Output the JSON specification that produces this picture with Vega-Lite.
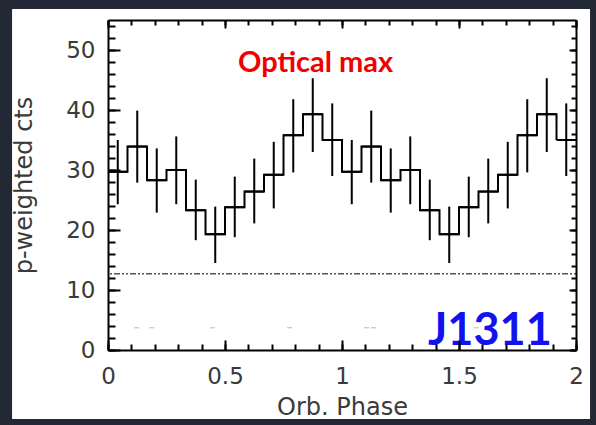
{
  "$schema": "https://vega.github.io/schema/vega-lite/v6.json",
  "width": 468,
  "height": 330,
  "autosize": {"type": "none"},
  "padding": {"left": 108, "top": 20, "right": 20, "bottom": 75},
  "background": "#222834",
  "config": {
    "view": {"stroke": null},
    "axis": {
      "grid": false,
      "labelFont": "DejaVu Sans",
      "labelFontSize": 23,
      "labelColor": "#3a3a3a",
      "titleFont": "DejaVu Sans",
      "titleFontSize": 24,
      "titleFontWeight": "normal",
      "titleColor": "#3a3a3a",
      "domainColor": "black",
      "domainWidth": 2,
      "tickColor": "black",
      "tickWidth": 2,
      "labelFlush": false,
      "labelOverlap": false
    }
  },
  "datasets": {
    "bins": [
      {"phase_start": 0.0, "phase_end": 0.0833, "phase": 0.0417, "cts": 29.7, "cts_lo": 24.3, "cts_hi": 35.0},
      {"phase_start": 0.0833, "phase_end": 0.1667, "phase": 0.125, "cts": 33.9, "cts_lo": 27.9, "cts_hi": 39.9},
      {"phase_start": 0.1667, "phase_end": 0.25, "phase": 0.2083, "cts": 28.3, "cts_lo": 22.9, "cts_hi": 33.6},
      {"phase_start": 0.25, "phase_end": 0.3333, "phase": 0.2917, "cts": 30.0, "cts_lo": 24.3, "cts_hi": 35.6},
      {"phase_start": 0.3333, "phase_end": 0.4167, "phase": 0.375, "cts": 23.3, "cts_lo": 18.3, "cts_hi": 28.4},
      {"phase_start": 0.4167, "phase_end": 0.5, "phase": 0.4583, "cts": 19.3, "cts_lo": 14.5, "cts_hi": 23.9},
      {"phase_start": 0.5, "phase_end": 0.5833, "phase": 0.5417, "cts": 23.8, "cts_lo": 18.8, "cts_hi": 28.9},
      {"phase_start": 0.5833, "phase_end": 0.6667, "phase": 0.625, "cts": 26.4, "cts_lo": 21.1, "cts_hi": 31.9},
      {"phase_start": 0.6667, "phase_end": 0.75, "phase": 0.7083, "cts": 29.2, "cts_lo": 23.6, "cts_hi": 34.7},
      {"phase_start": 0.75, "phase_end": 0.8333, "phase": 0.7917, "cts": 35.8, "cts_lo": 29.6, "cts_hi": 41.8},
      {"phase_start": 0.8333, "phase_end": 0.9167, "phase": 0.875, "cts": 39.3, "cts_lo": 33.0, "cts_hi": 45.3},
      {"phase_start": 0.9167, "phase_end": 1.0, "phase": 0.9583, "cts": 35.0, "cts_lo": 29.0, "cts_hi": 41.1},
      {"phase_start": 1.0, "phase_end": 1.0833, "phase": 1.0417, "cts": 29.7, "cts_lo": 24.3, "cts_hi": 35.0},
      {"phase_start": 1.0833, "phase_end": 1.1667, "phase": 1.125, "cts": 33.9, "cts_lo": 27.9, "cts_hi": 39.9},
      {"phase_start": 1.1667, "phase_end": 1.25, "phase": 1.2083, "cts": 28.3, "cts_lo": 22.9, "cts_hi": 33.6},
      {"phase_start": 1.25, "phase_end": 1.3333, "phase": 1.2917, "cts": 30.0, "cts_lo": 24.3, "cts_hi": 35.6},
      {"phase_start": 1.3333, "phase_end": 1.4167, "phase": 1.375, "cts": 23.3, "cts_lo": 18.3, "cts_hi": 28.4},
      {"phase_start": 1.4167, "phase_end": 1.5, "phase": 1.4583, "cts": 19.3, "cts_lo": 14.5, "cts_hi": 23.9},
      {"phase_start": 1.5, "phase_end": 1.5833, "phase": 1.5417, "cts": 23.8, "cts_lo": 18.8, "cts_hi": 28.9},
      {"phase_start": 1.5833, "phase_end": 1.6667, "phase": 1.625, "cts": 26.4, "cts_lo": 21.1, "cts_hi": 31.9},
      {"phase_start": 1.6667, "phase_end": 1.75, "phase": 1.7083, "cts": 29.2, "cts_lo": 23.6, "cts_hi": 34.7},
      {"phase_start": 1.75, "phase_end": 1.8333, "phase": 1.7917, "cts": 35.8, "cts_lo": 29.6, "cts_hi": 41.8},
      {"phase_start": 1.8333, "phase_end": 1.9167, "phase": 1.875, "cts": 39.3, "cts_lo": 33.0, "cts_hi": 45.3},
      {"phase_start": 1.9167, "phase_end": 2.0, "phase": 1.9583, "cts": 35.0, "cts_lo": 29.0, "cts_hi": 41.1}
    ],
    "panel": [{"x1": -0.41, "x2": 2.06, "y1": -11.5, "y2": 56.83}],
    "background_level": [{"level": 12.7}],
    "faint": [
      {"phase": 0.123, "level": 3.7},
      {"phase": 0.187, "level": 3.7},
      {"phase": 0.447, "level": 3.7},
      {"phase": 0.776, "level": 3.7},
      {"phase": 1.105, "level": 3.7},
      {"phase": 1.135, "level": 3.7},
      {"phase": 1.574, "level": 3.7}
    ],
    "notes": [
      {"phase": 0.887, "cts": 47.8, "label": "Optical max", "kind": "opt"},
      {"phase": 1.632, "cts": 3.1, "label": "J1311", "kind": "src"}
    ]
  },
  "resolve": {"axis": {"x": "independent", "y": "independent"}},
  "layer": [
    {
      "data": {"name": "panel"},
      "mark": {"type": "rect", "fill": "white", "clip": false, "zindex": 0},
      "encoding": {
        "x": {"field": "x1", "type": "quantitative", "scale": {"domain": [0, 2], "nice": false, "zero": false}, "axis": null},
        "x2": {"field": "x2"},
        "y": {"field": "y1", "type": "quantitative", "scale": {"domain": [0, 55], "nice": false, "zero": false}, "axis": null},
        "y2": {"field": "y2"}
      }
    },
    {
      "data": {"name": "background_level"},
      "mark": {"type": "rule", "color": "#555555", "strokeWidth": 1.5, "strokeDash": [2, 2, 2, 2, 6, 2], "zindex": 2},
      "encoding": {
        "y": {"field": "level", "type": "quantitative", "axis": {
          "orient": "right", "zindex": 1, "values": [0,2,4,6,8,10,12,14,16,18,20,22,24,26,28,30,32,34,36,38,40,42,44,46,48,50,52,54],
          "labels": false, "domain": false, "tickSize": -5, "title": null}}
      }
    },
    {
      "data": {"name": "faint"},
      "mark": {"type": "tick", "orient": "horizontal", "color": "#999999", "size": 5, "thickness": 1, "zindex": 2},
      "encoding": {
        "x": {"field": "phase", "type": "quantitative", "axis": {
          "orient": "top", "zindex": 1, "values": [0,0.1,0.2,0.3,0.4,0.5,0.6,0.7,0.8,0.9,1,1.1,1.2,1.3,1.4,1.5,1.6,1.7,1.8,1.9,2],
          "labels": false, "domain": false, "tickSize": -5, "title": null}},
        "y": {"field": "level", "type": "quantitative", "axis": null}
      }
    },
    {
      "data": {"name": "bins"},
      "mark": {"type": "rule", "color": "black", "strokeWidth": 2, "zindex": 2},
      "encoding": {
        "x": {"field": "phase", "type": "quantitative", "axis": {
          "orient": "bottom", "zindex": 1, "values": [0, 0.5, 1, 1.5, 2], "labelExpr": "'' + datum.value",
          "tickSize": -10, "labelPadding": 25, "domain": true, "title": "Orb. Phase", "titlePadding": 7}},
        "y": {"field": "cts_lo", "type": "quantitative", "axis": {
          "orient": "left", "zindex": 1, "values": [0, 10, 20, 30, 40, 50],
          "tickSize": -12, "labelPadding": 25, "domain": true, "title": "p-weighted cts", "titlePadding": 29}},
        "y2": {"field": "cts_hi"}
      }
    },
    {
      "data": {"name": "bins"},
      "mark": {"type": "rule", "color": "black", "strokeWidth": 2, "zindex": 2},
      "encoding": {
        "x": {"field": "phase_start", "type": "quantitative", "axis": {
          "orient": "bottom", "zindex": 1, "values": [0,0.1,0.2,0.3,0.4,0.5,0.6,0.7,0.8,0.9,1,1.1,1.2,1.3,1.4,1.5,1.6,1.7,1.8,1.9,2],
          "labels": false, "domain": false, "tickSize": -6, "title": null}},
        "x2": {"field": "phase_end"},
        "y": {"field": "cts", "type": "quantitative", "axis": {
          "orient": "left", "zindex": 1, "values": [0,2,4,6,8,10,12,14,16,18,20,22,24,26,28,30,32,34,36,38,40,42,44,46,48,50,52,54],
          "labels": false, "domain": false, "tickSize": -7, "title": null}}
      }
    },
    {
      "data": {"name": "bins"},
      "mark": {"type": "line", "interpolate": "step-after", "color": "black", "strokeWidth": 2, "zindex": 2},
      "encoding": {
        "x": {"field": "phase_start", "type": "quantitative", "axis": {
          "orient": "top", "zindex": 1, "values": [0, 0.5, 1, 1.5, 2], "labels": false,
          "tickSize": -8, "domain": true, "title": null}},
        "y": {"field": "cts", "type": "quantitative", "axis": {
          "orient": "right", "zindex": 1, "values": [0, 10, 20, 30, 40, 50], "labels": false,
          "tickSize": -7, "domain": true, "title": null}}
      }
    },
    {
      "data": {"name": "notes"},
      "transform": [{"filter": "datum.kind == 'opt'"}],
      "mark": {"type": "text", "font": "Lato", "fontWeight": "bold", "fontSize": 29, "color": "#f00000", "align": "center", "baseline": "middle", "zindex": 3},
      "encoding": {
        "x": {"field": "phase", "type": "quantitative", "axis": null},
        "y": {"field": "cts", "type": "quantitative", "axis": null},
        "text": {"field": "label"}
      }
    },
    {
      "data": {"name": "notes"},
      "transform": [{"filter": "datum.kind == 'src'"}],
      "mark": {"type": "text", "font": "Lato", "fontWeight": "bold", "fontSize": 45, "color": "#1212f0", "align": "center", "baseline": "middle", "zindex": 3},
      "encoding": {
        "x": {"field": "phase", "type": "quantitative", "axis": null},
        "y": {"field": "cts", "type": "quantitative", "axis": null},
        "text": {"field": "label"}
      }
    }
  ]
}
